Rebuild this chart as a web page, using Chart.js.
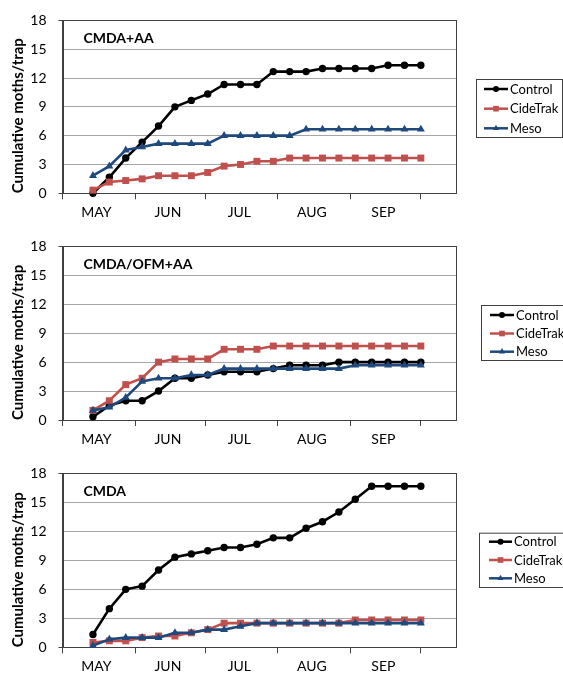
<!DOCTYPE html>
<html><head><meta charset="utf-8">
<script src="https://cdn.jsdelivr.net/npm/chart.js@4/dist/chart.umd.min.js"></script>
<style>
html,body{margin:0;padding:0;background:#fff;}
#wrap{position:relative;width:563px;height:680px;overflow:hidden;background:#fff;}
.panel{position:absolute;left:0;width:563px;}
</style></head><body>
<div id="wrap">
  <div class="panel" id="p1" style="top:0px;height:226px"><canvas id="c1"></canvas></div>
  <div class="panel" id="p2" style="top:226px;height:227px"><canvas id="c2"></canvas></div>
  <div class="panel" id="p3" style="top:453px;height:227px"><canvas id="c3"></canvas></div>
</div>
<script>
// ---- data ----
const sampleDates = ['05-14','05-21','05-28','06-04','06-11','06-18','06-25','07-02','07-09','07-16','07-23','07-30','08-06','08-13','08-20','08-27','09-03','09-10','09-17','09-24','10-01'];
const monthStarts = ['05-01','06-01','07-01','08-01','09-01','10-01'];
const monthLabels = ['MAY','JUN','JUL','AUG','SEP'];
const seriesNames = ['Control','CideTrak','Meso'];
const panelTitles = ['CMDA+AA','CMDA/OFM+AA','CMDA'];
const yTicks = [0,3,6,9,12,15,18];

const cmdaAA_control  = [0,1.67,3.67,5.33,7,9,9.67,10.33,11.33,11.33,11.33,12.67,12.67,12.67,13,13,13,13,13.33,13.33,13.33];
const cmdaAA_cidetrak = [0.33,1.17,1.33,1.5,1.83,1.83,1.83,2.17,2.83,3,3.33,3.33,3.67,3.67,3.67,3.67,3.67,3.67,3.67,3.67,3.67];
const cmdaAA_meso     = [1.83,2.83,4.5,4.83,5.17,5.17,5.17,5.17,6,6,6,6,6,6.67,6.67,6.67,6.67,6.67,6.67,6.67,6.67];

const ofmAA_control   = [0.33,1.5,2,2,3,4.33,4.33,4.67,5,5,5,5.33,5.67,5.67,5.67,6,6,6,6,6,6];
const ofmAA_cidetrak  = [1,2,3.67,4.33,6,6.33,6.33,6.33,7.33,7.33,7.33,7.67,7.67,7.67,7.67,7.67,7.67,7.67,7.67,7.67,7.67];
const ofmAA_meso      = [1,1.33,2.33,4,4.33,4.33,4.67,4.67,5.33,5.33,5.33,5.33,5.33,5.33,5.33,5.33,5.67,5.67,5.67,5.67,5.67];

const cmda_control    = [1.33,4,6,6.33,8,9.33,9.67,10,10.33,10.33,10.67,11.33,11.33,12.33,13,14,15.33,16.67,16.67,16.67,16.67];
const cmda_cidetrak   = [0.5,0.67,0.67,1,1.17,1.17,1.5,1.83,2.5,2.5,2.5,2.5,2.5,2.5,2.5,2.5,2.83,2.83,2.83,2.83,2.83];
const cmda_meso       = [0.17,0.83,1,1,1,1.5,1.5,1.83,1.83,2.17,2.5,2.5,2.5,2.5,2.5,2.5,2.5,2.5,2.5,2.5,2.5];

// ---- helpers ----
function dayOf(mmdd){ const [m,d]=mmdd.split('-').map(Number); return (Date.UTC(2000,m-1,d)-Date.UTC(2000,4,1))/86400000; }
const xDays = sampleDates.map(dayOf);
const tickDays = monthStarts.map(dayOf);
const labelMap = new Map();
monthLabels.forEach((l,i)=>{ const v=(tickDays[i]+tickDays[i+1])/2 - 1; labelMap.set(v,l); });
const allTicks = [...tickDays, ...labelMap.keys()].sort((a,b)=>a-b);

const styles = [
  {color:'#000000', pointStyle:'circle', radius:3.7, lr:3.0},
  {color:'#C0504D', pointStyle:'rect', radius:4.9, lr:4.0},
  {color:'#1F497D', pointStyle:'triangle', radius:4.6, lr:3.6}
];
const FONT = 'Lato, "Open Sans", sans-serif';

const overlay = {
  id:'overlay',
  beforeDatasetsDraw(chart){
    const {ctx, chartArea:a} = chart;
    ctx.save();
    ctx.strokeStyle='#404040'; ctx.lineWidth=1;
    ctx.strokeRect(Math.round(a.left)+0.5, Math.round(a.top)+0.5, Math.round(a.right)-Math.round(a.left), Math.round(a.bottom)-Math.round(a.top));
    ctx.restore();
  },
  afterDraw(chart, args, opts){
    const {ctx, chartArea:a} = chart;
    ctx.save();
    ctx.fillStyle='#000'; ctx.textBaseline='middle'; ctx.textAlign='left';
    ctx.font = 'bold 14px ' + FONT;
    ctx.fillText(opts.title, a.left+21, a.top+18.5);
    const L = opts.legend, off = opts.offset;
    ctx.strokeStyle='#404040'; ctx.lineWidth=1;
    ctx.strokeRect(L.x0+0.5, L.y0-off+0.5, L.x1-L.x0, L.y1-L.y0);
    ctx.font = '13px ' + FONT;
    seriesNames.forEach((n,i)=>{
      const y = L.ys[i]-off, s = styles[i];
      ctx.strokeStyle=s.color; ctx.fillStyle=s.color; ctx.lineWidth=2.5;
      ctx.beginPath(); ctx.moveTo(L.lx0,y); ctx.lineTo(L.lx1,y); ctx.stroke();
      Chart.helpers.drawPoint(ctx,{pointStyle:s.pointStyle, radius:s.lr, rotation:0, borderWidth:0},(L.lx0+L.lx1)/2,y);
      ctx.fillStyle='#000';
      ctx.fillText(n, L.tx, y+0.5);
    });
    ctx.restore();
  }
};

function makePanel(id, title, series, geo){
  const datasets = series.map((vals,i)=>({
    label: seriesNames[i],
    data: vals.map((v,k)=>({x:xDays[k], y:v})),
    borderColor: styles[i].color, backgroundColor: styles[i].color,
    borderWidth: 2.6, pointStyle: styles[i].pointStyle, pointRadius: styles[i].radius,
    pointBorderWidth: 0, pointHoverRadius: styles[i].radius, tension: 0, clip: false,
    order: 2 - i
  }));
  new Chart(document.getElementById(id), {
    type:'line',
    data:{datasets},
    plugins:[overlay],
    options:{
      responsive:true, maintainAspectRatio:false, animation:false, devicePixelRatio:1,
      layout:{padding:{top:geo.padTop, right:107, left:0, bottom:0}},
      plugins:{legend:{display:false}, tooltip:{enabled:false},
        overlay:{title, legend:geo.legend, offset:geo.offset}},
      scales:{
        x:{type:'linear', min:0, max:168,
          afterBuildTicks(s){ s.ticks = allTicks.map(v=>({value:v})); },
          afterFit(s){ s.height = geo.xh; },
          ticks:{autoSkip:false, maxRotation:0, minRotation:0, padding:5, color:'#000',
            font:{family:FONT, size:14}, callback:(v)=> labelMap.has(v) ? labelMap.get(v) : ''},
          grid:{drawOnChartArea:false, tickLength:6, lineWidth:1,
            tickColor:(c)=> (c.tick && labelMap.has(c.tick.value)) ? 'rgba(0,0,0,0)' : '#404040'},
          border:{display:true, color:'#404040', width:1}
        },
        y:{min:0, max:18,
          afterBuildTicks(s){ s.ticks = yTicks.map(v=>({value:v})); },
          afterFit(s){ s.width = 62.5; },
          ticks:{padding:12, color:'#000', font:{family:FONT, size:14}},
          grid:{lineWidth:1, tickLength:4,
            color:(c)=> (c.tick && (c.tick.value===0||c.tick.value===18)) ? 'rgba(0,0,0,0)' : '#a6a6a6',
            tickColor:(c)=> (c.tick && (c.tick.value===0||c.tick.value===18)) ? '#404040' : 'rgba(0,0,0,0)'},
          border:{display:true, color:'#404040', width:1},
          title:{display:true, text:'Cumulative moths/trap', align:'start', color:'#000',
            font:{family:FONT, size:15, weight:'bold'}, padding:{top:9, bottom:0}}
        }
      }
    }
  });
}

makePanel('c1', panelTitles[0], [cmdaAA_control, cmdaAA_cidetrak, cmdaAA_meso],
  {padTop:12.3, xh:32.7, offset:0,
   legend:{x0:476, y0:79, x1:562, y1:137, ys:[89,108.7,128.3], lx0:484, lx1:508, tx:510}});
makePanel('c2', panelTitles[1], [ofmAA_control, ofmAA_cidetrak, ofmAA_meso],
  {padTop:12.3, xh:33, offset:226,
   legend:{x0:481, y0:305, x1:580, y1:360, ys:[315,333.5,351.7], lx0:490, lx1:514, tx:516}});
makePanel('c3', panelTitles[2], [cmda_control, cmda_cidetrak, cmda_meso],
  {padTop:12.7, xh:32.7, offset:453,
   legend:{x0:479, y0:532.7, x1:580, y1:587, ys:[541.7,560,578.3], lx0:489, lx1:512, tx:514}});
</script>
</body></html>
